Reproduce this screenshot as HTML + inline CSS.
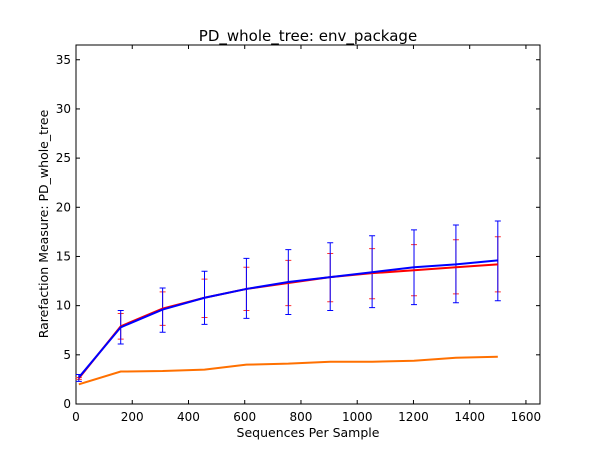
<!DOCTYPE html>
<html><head><meta charset="utf-8"><style>
body{margin:0;background:#fff;}
svg text{font-family:"DejaVu Sans","Liberation Sans",sans-serif;fill:#000;}
</style></head><body>
<svg id="chart" width="600" height="450" xmlns="http://www.w3.org/2000/svg">
<rect width="600" height="450" fill="#fff"/>
<g id="plot"></g>
</svg>
<script>
const xs=[10,159,308,457,606,755,904,1053,1202,1351,1500];
const blueMean=[2.7,7.8,9.6,10.8,11.7,12.4,12.9,13.4,13.9,14.2,14.6];
const blueLo=[2.3,6.1,7.3,8.1,8.7,9.1,9.5,9.8,10.1,10.3,10.5];
const blueHi=[3.0,9.5,11.8,13.5,14.8,15.7,16.4,17.1,17.7,18.2,18.6];
const redMean=[2.6,7.9,9.7,10.8,11.7,12.3,12.9,13.3,13.6,13.9,14.2];
const redLo=[2.5,6.6,8.0,8.8,9.5,10.0,10.4,10.7,11.0,11.2,11.4];
const redHi=[2.7,9.2,11.4,12.7,13.9,14.6,15.3,15.8,16.2,16.7,17.0];
const orangeMean=[2.0,3.3,3.35,3.5,4.0,4.1,4.3,4.3,4.4,4.7,4.8];
const xTicks=[0,200,400,600,800,1000,1200,1400,1600];
const yTicks=[0,5,10,15,20,25,30,35];
const L=76,R=540,T=45,B=404,XMAX=1650,YMAX=36.5;
const sx=v=>L+v/XMAX*(R-L), sy=v=>B-v/YMAX*(B-T);
const NS='http://www.w3.org/2000/svg', g=document.getElementById('plot');
function mk(t,a,p){const e=document.createElementNS(NS,t);for(const k in a)e.setAttribute(k,a[k]);(p||g).appendChild(e);return e;}
// axes box
const box=mk('rect',{x:L,y:T,width:R-L,height:B-T,fill:'none',stroke:'#000','stroke-width':1});


xTicks.forEach(v=>{const x=sx(v);
 mk('line',{x1:x,y1:B,x2:x,y2:B-4,stroke:'#000'});mk('line',{x1:x,y1:T,x2:x,y2:T+4,stroke:'#000'});
 const t=mk('text',{x:x,y:B+17,'text-anchor':'middle','font-size':12});t.textContent=v;
 
 });
yTicks.forEach(v=>{const y=sy(v);
 mk('line',{x1:L,y1:y,x2:L+4,y2:y,stroke:'#000'});mk('line',{x1:R,y1:y,x2:R-4,y2:y,stroke:'#000'});
 const t=mk('text',{x:L-5,y:y+4,'text-anchor':'end','font-size':12});t.textContent=v;
 
 });
function errs(lo,hi,c,name){lo.forEach((l,i)=>{const x=sx(xs[i]);
 const e=mk('path',{d:`M${x},${sy(l)}V${sy(hi[i])}M${x-3},${sy(l)}h6M${x-3},${sy(hi[i])}h6`,stroke:c,fill:'none','stroke-width':1});
 
 });}
function line(m,c,name){const p=mk('polyline',{points:m.map((v,i)=>sx(xs[i])+','+sy(v)).join(' '),fill:'none',stroke:c,'stroke-width':2});
 
 }
errs(redLo,redHi,'#ff3030','red-error-bar');
errs(blueLo,blueHi,'#0000ff','blue-error-bar');
line(orangeMean,'#ff7000','orange-series-line');
line(redMean,'#ff0000','red-series-line');
line(blueMean,'#0000ff','blue-series-line');
</script>
<svg width="600" height="450" style="position:absolute;left:0;top:0" xmlns="http://www.w3.org/2000/svg">
<text x="308" y="41" text-anchor="middle" font-size="15">PD_whole_tree: env_package</text>
<text x="308" y="437" text-anchor="middle" font-size="12.5">Sequences Per Sample</text>
<text transform="translate(48,224) rotate(-90)" text-anchor="middle" font-size="12.5">Rarefaction Measure: PD_whole_tree</text>
</svg>
</body></html>
